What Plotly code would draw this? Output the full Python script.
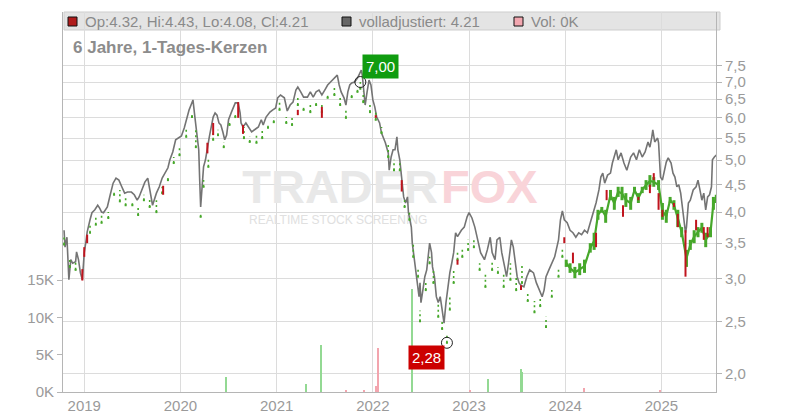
import math
import plotly.graph_objects as go

# ---------------- data ----------------
# adjusted close (grey line): decimal year / price
adj_t = [2018.79, 2018.80, 2018.82, 2018.84, 2018.86, 2018.88, 2018.91, 2018.92, 2018.94, 2018.96, 2018.98,
         2019.00, 2019.02, 2019.03, 2019.06, 2019.08, 2019.11, 2019.14, 2019.16, 2019.18, 2019.20, 2019.24,
         2019.27, 2019.30, 2019.33, 2019.36, 2019.39, 2019.42, 2019.45, 2019.49, 2019.52, 2019.55, 2019.57,
         2019.60, 2019.63, 2019.66, 2019.68, 2019.71, 2019.75, 2019.78, 2019.81, 2019.84, 2019.87, 2019.89,
         2019.92, 2019.95, 2019.98, 2020.01, 2020.04, 2020.06, 2020.09, 2020.11, 2020.13, 2020.15, 2020.17,
         2020.19, 2020.20, 2020.21, 2020.23, 2020.24, 2020.26, 2020.28, 2020.30, 2020.32, 2020.34, 2020.36,
         2020.38, 2020.40, 2020.42, 2020.44, 2020.46, 2020.48, 2020.50, 2020.53, 2020.55, 2020.57, 2020.60,
         2020.62, 2020.63, 2020.65, 2020.68, 2020.71, 2020.74, 2020.77, 2020.81, 2020.84, 2020.86, 2020.89,
         2020.93, 2020.96, 2020.99, 2021.01, 2021.04, 2021.08, 2021.11, 2021.14, 2021.17, 2021.20, 2021.22,
         2021.25, 2021.28, 2021.32, 2021.35, 2021.38, 2021.41, 2021.44, 2021.47, 2021.50, 2021.53, 2021.56,
         2021.60, 2021.63, 2021.65, 2021.67, 2021.70, 2021.72, 2021.74, 2021.76, 2021.78, 2021.81, 2021.84,
         2021.88, 2021.89, 2021.90, 2021.92, 2021.94, 2021.96, 2021.98, 2022.00, 2022.02, 2022.04, 2022.07,
         2022.09, 2022.13, 2022.16, 2022.17, 2022.19, 2022.21, 2022.23, 2022.25, 2022.26, 2022.28, 2022.30,
         2022.32, 2022.34, 2022.36, 2022.37, 2022.40, 2022.41, 2022.43, 2022.45, 2022.47, 2022.48, 2022.49,
         2022.50, 2022.52, 2022.54, 2022.56, 2022.58, 2022.59, 2022.61, 2022.62, 2022.64, 2022.66, 2022.68,
         2022.70, 2022.72, 2022.74, 2022.76, 2022.78, 2022.80, 2022.82, 2022.84, 2022.86, 2022.88, 2022.92,
         2022.95, 2022.98, 2023.00, 2023.03, 2023.06, 2023.09, 2023.12, 2023.16, 2023.19, 2023.22, 2023.24,
         2023.27, 2023.29, 2023.32, 2023.34, 2023.37, 2023.39, 2023.41, 2023.44, 2023.46, 2023.48, 2023.50,
         2023.52, 2023.54, 2023.57, 2023.60, 2023.63, 2023.67, 2023.70, 2023.73, 2023.76, 2023.78, 2023.80,
         2023.83, 2023.86, 2023.89, 2023.93, 2023.95, 2023.97, 2023.99, 2024.02, 2024.05, 2024.08, 2024.11,
         2024.14, 2024.17, 2024.20, 2024.23, 2024.26, 2024.29, 2024.32, 2024.35, 2024.37, 2024.39, 2024.41,
         2024.44, 2024.47, 2024.49, 2024.51, 2024.53, 2024.55, 2024.58, 2024.61, 2024.64, 2024.68, 2024.71,
         2024.74, 2024.77, 2024.80, 2024.83, 2024.86, 2024.88, 2024.90, 2024.91, 2024.93, 2024.96, 2024.97,
         2024.98, 2024.99, 2025.01, 2025.03, 2025.05, 2025.07, 2025.10, 2025.12, 2025.14, 2025.16, 2025.18,
         2025.20, 2025.22, 2025.25, 2025.26, 2025.28, 2025.30, 2025.33, 2025.36, 2025.38, 2025.40, 2025.42,
         2025.44, 2025.46, 2025.48, 2025.50, 2025.52, 2025.53, 2025.55, 2025.57]
adj_p = [3.70, 3.44, 3.59, 2.99, 3.26, 3.21, 3.23, 3.37, 3.26, 3.08, 2.99,
         3.36, 3.55, 3.67, 3.87, 3.99, 4.04, 4.12, 4.07, 4.00, 3.99, 4.09,
         4.31, 4.53, 4.63, 4.59, 4.46, 4.34, 4.36, 4.36, 4.31, 4.21, 4.27,
         4.40, 4.55, 4.63, 4.40, 4.12, 4.34, 4.46, 4.63, 4.73, 4.84, 5.01,
         5.18, 5.46, 5.50, 5.55, 5.75, 5.95, 6.21, 6.34, 6.48, 6.02, 5.62,
         5.23, 4.59, 4.09, 4.59, 4.86, 5.01, 5.29, 5.53, 5.77, 6.02, 6.13,
         6.07, 5.87, 5.82, 5.65, 5.46, 5.57, 5.95, 6.15, 6.29, 6.40, 6.40,
         6.13, 5.87, 5.77, 5.87, 5.77, 5.65, 5.70, 5.77, 5.95, 5.82, 6.02,
         6.15, 6.21, 6.26, 6.54, 6.62, 6.54, 6.18, 6.34, 6.42, 6.76, 6.85,
         6.71, 6.56, 6.56, 6.71, 6.56, 6.71, 6.76, 6.62, 6.76, 6.91, 7.00,
         7.12, 7.21, 6.91, 6.71, 6.54, 6.34, 6.71, 6.91, 6.97, 7.00, 7.12,
         7.37, 7.21, 6.82, 6.34, 6.71, 7.06, 6.91, 6.48, 6.29, 6.02, 5.87,
         5.62, 5.39, 5.16, 4.79, 5.07, 5.23, 5.23, 5.53, 5.23, 5.01, 4.65,
         4.27, 4.16, 4.27, 3.99, 3.75, 3.50, 3.26, 3.03, 2.90, 2.78, 2.95,
         2.71, 2.86, 3.03, 3.12, 3.40, 3.50, 3.36, 3.16, 3.03, 2.78, 2.71,
         2.78, 2.63, 2.48, 2.71, 2.90, 3.08, 3.21, 3.36, 3.66, 3.60, 3.70,
         3.75, 3.92, 3.99, 3.90, 3.75, 3.55, 3.36, 3.26, 3.40, 3.59, 3.36,
         3.26, 3.55, 3.59, 3.36, 3.16, 3.03, 3.21, 3.55, 3.44, 3.21, 3.03,
         2.95, 2.92, 2.90, 3.03, 3.12, 3.08, 2.95, 2.86, 2.78, 2.86, 3.03,
         3.12, 3.21, 3.30, 3.55, 3.87, 4.02, 3.87, 3.82, 3.70, 3.66, 3.59,
         3.66, 3.63, 3.70, 3.66, 3.82, 3.99, 4.16, 4.40, 4.65, 4.73, 4.53,
         4.69, 4.73, 4.94, 5.07, 5.23, 5.01, 5.16, 4.94, 4.79, 5.07, 5.16,
         5.01, 5.23, 5.07, 5.18, 5.41, 5.29, 5.53, 5.70, 5.41, 5.50, 5.39,
         4.94, 4.65, 4.59, 4.79, 4.96, 5.05, 4.94, 4.73, 4.65, 4.46, 4.50,
         4.34, 4.09, 3.66, 3.75, 4.16, 4.21, 4.40, 4.46, 4.59, 4.40, 4.21,
         4.34, 4.04, 4.27, 4.31, 4.46, 5.01, 5.07, 5.11]

# candles (unadjusted): decimal year / high / low
k_t = [2018.79, 2018.85, 2018.91, 2019.06, 2019.12, 2019.18, 2019.25, 2019.31, 2019.37, 2019.43, 2019.50,
       2019.56, 2019.62, 2019.68, 2019.75, 2019.81, 2019.87, 2019.93, 2019.99, 2020.06, 2020.12, 2020.16,
       2020.21, 2020.24, 2020.29, 2020.34, 2020.39, 2020.45, 2020.51, 2020.57, 2020.66, 2020.72, 2020.79,
       2020.85, 2020.91, 2020.97, 2021.03, 2021.10, 2021.16, 2021.22, 2021.28, 2021.35, 2021.41, 2021.47,
       2021.53, 2021.60, 2021.66, 2021.72, 2021.78, 2021.84, 2021.87, 2021.90, 2021.97, 2022.03, 2022.09,
       2022.16, 2022.22, 2022.28, 2022.33, 2022.38, 2022.42, 2022.47, 2022.49, 2022.55, 2022.59, 2022.63,
       2022.68, 2022.72, 2022.77, 2022.80, 2022.84, 2022.88, 2022.93, 2022.99, 2023.05, 2023.11, 2023.17,
       2023.24, 2023.30, 2023.36, 2023.43, 2023.49, 2023.55, 2023.61, 2023.68, 2023.74, 2023.80, 2023.86,
       2023.93, 2023.97,
       2024.01, 2024.05, 2024.10, 2024.15, 2024.20, 2024.26, 2024.30, 2024.34, 2024.38, 2024.42, 2024.47,
       2024.51, 2024.55, 2024.59, 2024.63, 2024.68, 2024.72, 2024.76, 2024.80, 2024.84, 2024.88, 2024.92,
       2024.97, 2025.01, 2025.05, 2025.09, 2025.13, 2025.17, 2025.21, 2025.26, 2025.30, 2025.34, 2025.38,
       2025.42, 2025.46, 2025.51, 2025.54, 2025.57]
k_hi = [3.60, 3.26, 3.26, 3.80, 3.92, 3.99, 4.00, 4.40, 4.40, 4.27, 4.21,
        4.07, 4.31, 4.27, 4.21, 4.46, 4.65, 5.07, 5.33, 5.70, 6.15, 5.70,
        4.00, 4.59, 5.01, 5.62, 5.70, 5.41, 5.89, 6.13, 5.77, 5.53, 5.57,
        5.70, 5.87, 6.02, 6.40, 6.02, 6.00, 6.54, 6.34, 6.40, 6.48, 6.34,
        6.62, 6.82, 6.54, 6.26, 6.69, 6.82, 7.00, 6.71, 6.34, 6.13, 5.77,
        5.39, 5.01, 4.94, 4.21, 4.04, 3.50, 3.16, 2.62, 2.95, 3.30, 3.12,
        2.71, 2.52, 2.36, 2.78, 3.12, 3.40, 3.44, 3.55, 3.55, 3.21, 3.08,
        3.26, 3.16, 3.08, 3.21, 3.03, 3.21, 2.83, 2.73, 2.78, 2.55, 2.86,
        3.16, 3.42,
        3.26, 3.21, 3.16, 3.21, 3.26, 3.50, 3.66, 4.04, 4.09, 4.04, 4.40,
        4.27, 4.46, 4.46, 4.34, 4.27, 4.46, 4.34, 4.46, 4.59, 4.69, 4.65,
        4.59, 4.16, 4.04, 4.27, 4.21, 4.04, 3.75, 3.40, 3.55, 3.70, 3.75,
        3.82, 3.66, 3.75, 4.27, 4.31]
k_lo = [3.48, 3.16, 3.12, 3.66, 3.79, 3.82, 3.90, 4.31, 4.19, 4.12, 4.12,
        3.95, 4.21, 4.09, 4.00, 4.34, 4.59, 4.94, 5.11, 5.53, 6.02, 5.29,
        3.92, 4.46, 4.86, 5.46, 5.57, 5.29, 5.82, 6.02, 5.50, 5.41, 5.39,
        5.50, 5.75, 5.89, 6.21, 5.87, 5.82, 6.34, 6.21, 6.15, 6.34, 6.15,
        6.54, 6.62, 6.34, 6.00, 6.56, 6.71, 6.80, 6.42, 6.15, 5.95, 5.62,
        5.07, 4.79, 4.79, 4.09, 3.87, 3.30, 3.03, 2.50, 2.86, 3.21, 2.95,
        2.55, 2.42, 2.28, 2.63, 2.95, 3.26, 3.30, 3.40, 3.44, 3.12, 2.90,
        3.12, 3.08, 2.90, 2.99, 2.86, 2.95, 2.73, 2.60, 2.67, 2.44, 2.78,
        3.03, 3.30,
        3.16, 3.08, 3.01, 3.05, 3.08, 3.36, 3.40, 3.87, 3.99, 3.82, 4.21,
        4.04, 4.27, 4.21, 4.09, 4.04, 4.34, 4.16, 4.34, 4.40, 4.46, 4.46,
        4.40, 3.87, 3.82, 4.16, 4.04, 3.75, 3.59, 3.16, 3.40, 3.50, 3.59,
        3.66, 3.44, 3.59, 4.04, 4.16]

# down candles (red): decimal year / high / low
red_t = [2018.98, 2019.00, 2019.03, 2019.82, 2020.28, 2020.34, 2020.60, 2020.65, 2021.22, 2021.47,
         2022.03, 2022.30, 2022.88, 2023.54, 2023.99, 2024.08, 2024.32, 2024.43, 2024.60, 2024.76,
         2024.88, 2024.92, 2024.97, 2025.01, 2025.13, 2025.17, 2025.25, 2025.36, 2025.44, 2025.48]
red_hi = [3.13, 3.44, 3.63, 4.48, 5.39, 5.87, 6.42, 5.82, 6.21, 6.29,
          6.07, 4.59, 3.26, 2.92, 3.59, 3.36, 3.66, 4.40, 4.12, 4.27,
          4.50, 4.73, 4.34, 4.04, 4.16, 3.97, 3.70, 3.87, 3.75, 3.75]
red_lo = [2.98, 3.30, 3.50, 4.31, 5.15, 5.57, 6.00, 5.60, 6.07, 6.00,
          6.00, 4.37, 3.19, 2.86, 3.50, 3.21, 3.44, 4.21, 3.92, 4.21,
          4.34, 4.59, 4.04, 3.92, 4.09, 3.75, 3.03, 3.70, 3.55, 3.59]

# volume (thousands of shares), up-day flag
vol_t = [2020.47, 2021.31, 2021.46, 2021.72, 2021.91, 2022.03, 2022.05, 2022.41, 2023.01, 2023.20,
         2023.54, 2023.55, 2024.19, 2024.99]
vol_k = [2.0, 1.1, 6.3, 0.3, 0.2, 0.8, 5.9, 13.8, 0.2, 1.75, 3.1, 2.7, 0.5, 0.2]
vol_up = [1, 1, 1, 0, 0, 0, 0, 1, 0, 1, 1, 1, 0, 0]

hi_mark = (2021.87, 7.00)
lo_mark = (2022.77, 2.28)

price_ticks = [2.0, 2.5, 3.0, 3.5, 4.0, 4.5, 5.0, 5.5, 6.0, 6.5, 7.0, 7.5]
vol_ticks = [0, 5, 10, 15]
years = [2019, 2020, 2021, 2022, 2023, 2024, 2025]

# ---------------- styling ----------------
FONT = "Liberation Sans, Arial, sans-serif"
TICKC = "#9a9a9a"
GRID = "#dcdcdc"
AXL = "#b5b5b5"
GREEN = "#47a82b"
RED = "#c0141e"

# the page adds an 8px body margin, so the margins are set in page pixels minus that offset
OFF = 8
PL, PR, PT, PB = 63, 716, 12, 392          # plot box in page pixels
PW, PH = PR - PL, PB - PT

fig = go.Figure()

# watermark (on the volume axis, so it stays beneath the price traces)
fig.add_trace(go.Scatter(x=[2021.66], y=[27.0], mode="text", text=["TRADER"], yaxis="y",
                         textfont=dict(family=FONT, size=47, color="#e8e8e8", weight="bold"),
                         hoverinfo="skip", showlegend=False))
fig.add_trace(go.Scatter(x=[2023.21], y=[27.0], mode="text", text=["FOX"], yaxis="y",
                         textfont=dict(family=FONT, size=47, color="#f9d4d9", weight="bold"),
                         hoverinfo="skip", showlegend=False))
fig.add_trace(go.Scatter(x=[2021.64], y=[23.0], mode="text", text=["REALTIME STOCK SCREENING"],
                         yaxis="y", textfont=dict(family=FONT, size=12, color="#e0e0e0"),
                         hoverinfo="skip", showlegend=False))

# volume bars
fig.add_trace(go.Bar(x=vol_t, y=vol_k, width=0.011, yaxis="y",
                     marker=dict(color=["#93d993" if u else "#f3a5ae" for u in vol_up], line=dict(width=0)),
                     hoverinfo="skip", showlegend=False))

# adjusted close line
fig.add_trace(go.Scatter(x=adj_t, y=adj_p, mode="lines", yaxis="y2",
                         line=dict(color="#747474", width=1.6), hoverinfo="skip", showlegend=False))

# candles before 2024: sparse trades -> dotted columns
sx, sy, dx, dy = [], [], [], []
for t, h, l in zip(k_t, k_hi, k_lo):
    if t < 2024.0:
        dx += [t, t, None]
        dy += [l, h, None]
    else:
        sx += [t, t, None]
        sy += [l, h, None]
fig.add_trace(go.Scatter(x=dx, y=dy, mode="lines", yaxis="y2",
                         line=dict(color=GREEN, width=1.6, dash="2px,3px"), hoverinfo="skip", showlegend=False))
pre = [i for i, t in enumerate(k_t) if t < 2024.0]
fig.add_trace(go.Scatter(x=[k_t[i] for i in pre], y=[k_lo[i] for i in pre], mode="markers", yaxis="y2",
                         marker=dict(color=GREEN, size=2, symbol="square", line=dict(width=0)),
                         hoverinfo="skip", showlegend=False))
post = [i for i, t in enumerate(k_t) if t >= 2024.0]
fig.add_trace(go.Scatter(x=[k_t[i] for i in post], y=[(k_hi[i] + k_lo[i]) / 2 for i in post], mode="lines",
                         yaxis="y2", line=dict(color=GREEN, width=2.2), hoverinfo="skip", showlegend=False))
fig.add_trace(go.Scatter(x=sx, y=sy, mode="lines", yaxis="y2",
                         line=dict(color=GREEN, width=3), hoverinfo="skip", showlegend=False))

# red candles
rx, ry = [], []
for t, h, l in zip(red_t, red_hi, red_lo):
    rx += [t, t, None]
    ry += [l, h, None]
fig.add_trace(go.Scatter(x=rx, y=ry, mode="lines", yaxis="y2",
                         line=dict(color=RED, width=2), hoverinfo="skip", showlegend=False))

# high / low markers
fig.add_trace(go.Scatter(x=[hi_mark[0], lo_mark[0]], y=[hi_mark[1], lo_mark[1]], mode="markers", yaxis="y2",
                         marker=dict(symbol="circle-open", size=11, color="#222", line=dict(width=1)),
                         hoverinfo="skip", showlegend=False))


def de(v):
    return f"{v:.2f}".replace(".", ",")


annotations = [
    dict(x=hi_mark[0], y=math.log10(hi_mark[1]), xref="x", yref="y2", text=de(hi_mark[1]), showarrow=False,
         xanchor="left", yanchor="bottom", xshift=2, yshift=3, bgcolor="#109c10", borderpad=3,
         font=dict(family=FONT, size=15, color="white")),
    dict(x=lo_mark[0], y=math.log10(lo_mark[1]), xref="x", yref="y2", text=de(lo_mark[1]), showarrow=False,
         xanchor="right", yanchor="top", xshift=-2, yshift=-2, bgcolor="#cc0000", borderpad=3,
         font=dict(family=FONT, size=15, color="white")),
]


def px(xp):
    return (xp - PL) / PW


def py(yp):
    return (PB - yp) / PH


shapes = [dict(type="rect", xref="paper", yref="paper", x0=px(64), x1=px(720), y0=py(30), y1=py(12),
               fillcolor="#e4e4e4", line=dict(color="#cdcdcd", width=1), layer="below")]
legend_items = [("#b01c1c", "Op:4.32, Hi:4.43, Lo:4.08, Cl:4.21", 68),
                ("#666666", "volladjustiert: 4.21", 342),
                ("#f2a7b0", "Vol: 0K", 514)]
for col, txt, x0 in legend_items:
    shapes.append(dict(type="rect", xref="paper", yref="paper", x0=px(x0), x1=px(x0 + 9), y0=py(26), y1=py(17),
                       fillcolor=col, line=dict(color="#111", width=1)))
    annotations.append(dict(x=px(x0 + 15), y=py(21.5), xref="paper", yref="paper", text=txt, showarrow=False,
                            xanchor="left", yanchor="middle", font=dict(family=FONT, size=15, color="#8a8a8a")))
annotations.append(dict(x=px(71), y=py(48), xref="paper", yref="paper", text="<b>6 Jahre, 1-Tages-Kerzen</b>",
                        showarrow=False, xanchor="left", yanchor="middle",
                        font=dict(family=FONT, size=17, color="#8c8c8c")))

fig.update_layout(
    width=800, height=420,
    margin=dict(l=PL - OFF, r=800 - (PR - OFF), t=PT - OFF, b=420 - (PB - OFF), autoexpand=False),
    paper_bgcolor="white", plot_bgcolor="white",
    font=dict(family=FONT, size=15, color=TICKC),
    showlegend=False,
    bargap=0,
    xaxis=dict(range=[2018.779, 2025.567], tickvals=years, ticktext=[str(y) for y in years],
               showgrid=True, gridcolor=GRID, gridwidth=1, zeroline=False,
               showline=True, linecolor=AXL, linewidth=1, ticks="",
               tickfont=dict(family=FONT, size=15, color=TICKC)),
    yaxis=dict(range=[0, 51.0], side="left", tickvals=vol_ticks, ticktext=[f"{v}K" for v in vol_ticks],
               showgrid=False, zeroline=False, showline=True, linecolor=AXL, linewidth=1,
               ticks="outside", ticklen=5, tickcolor=AXL,
               tickfont=dict(family=FONT, size=15, color=TICKC)),
    yaxis2=dict(type="log", overlaying="y", side="right",
                range=[math.log10(1.845), math.log10(9.46)],
                tickvals=price_ticks, ticktext=[f"{v:.1f}".replace(".", ",") for v in price_ticks],
                showgrid=True, gridcolor=GRID, gridwidth=1, zeroline=False,
                showline=True, linecolor=AXL, linewidth=1,
                ticks="outside", ticklen=5, tickcolor=AXL,
                tickfont=dict(family=FONT, size=15, color=TICKC)),
    shapes=shapes,
    annotations=annotations,
)

fig.write_html("out.html")
